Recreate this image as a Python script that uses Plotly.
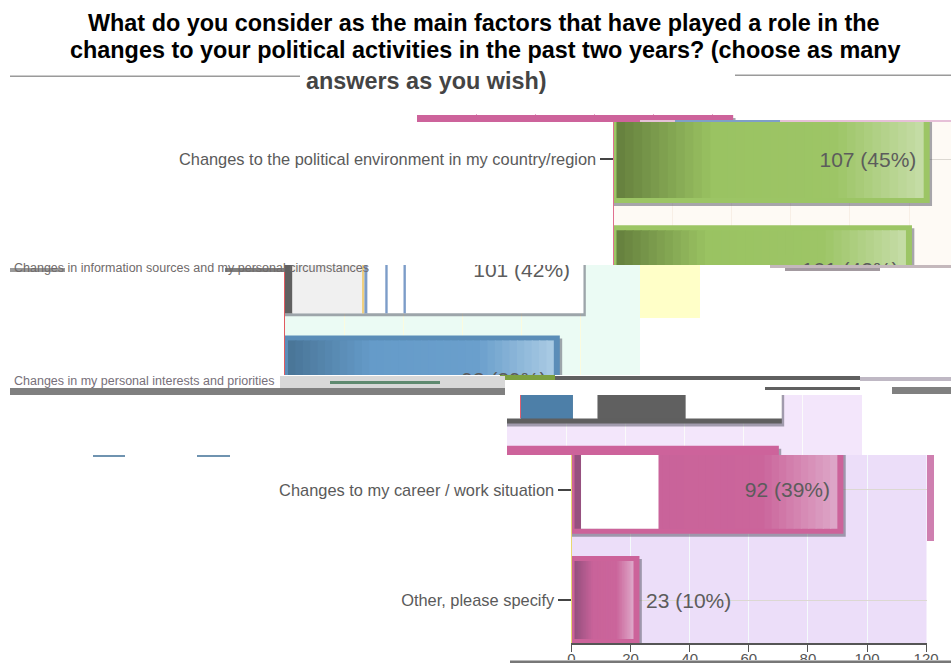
import plotly.graph_objects as go

W, H = 951, 663
CATEGORIES = ["Changes to the political environment in my country/region",
              "Changes in information sources and my personal circumstances",
              "Changes in my personal interests and priorities",
              "Changes to my career / work situation",
              "Other, please specify"]
COUNTS = [107, 101, 93, 92, 23]
PERCENTS = [45, 42, 39, 39, 10]
AXIS_TICKS = [0, 20, 40, 60, 80, 100, 120]
TITLE_LINES = ["What do you consider as the main factors that have played a role in the",
               "changes to your political activities in the past two years? (choose as many"]
TITLE_TAIL = "answers as you wish)"

PXU = 2.955; PLOTW = 355; PITCH = 110.25; C0 = 159; BARW = 0.8
FONT = "Liberation Sans"

def hex2(c):
    return [int(c[i:i + 2], 16) for i in (1, 3, 5)]

def ramp(anchors, n=36):
    out = []
    for k in range(n):
        f = k / n
        for (a, ca), (b, cb) in zip(anchors, anchors[1:]):
            if a <= f <= b:
                t = (f - a) / (b - a)
                rgb = [round(p + (q - p) * t) for p, q in zip(hex2(ca), hex2(cb))]
                out.append((f, "#%02x%02x%02x" % tuple(rgb)))
                break
    return out

GREEN = dict(o="#9cc565", s=ramp([(0, "#67823f"), (.30, "#9ac362"), (.70, "#9dc566"), (1, "#c8deab")]))
BLUE = dict(o="#5b8db8", s=ramp([(0, "#4a7698"), (.30, "#659bc9"), (.70, "#6a9fcc"), (1, "#adcde5")]))
PINK = dict(o="#cc639a", s=ramp([(0, "#96507f"), (.30, "#c9639a"), (.70, "#cb659b"), (1, "#dfabcb")]))
FLATPINK = dict(o="#cd639b", s=[])
GREY2 = dict(o="#ffffff", raw=[(0, .025, "#606060"), (.025, .258, "#f0f0f0"), (.258, .266, "#f0d080"), (.266, .276, "#7c9cc8"),
                               (.336, .344, "#7c9cc8"), (.397, .405, "#7c9cc8")])
BROKEN3 = dict(o="#5f5f5f", raw=[(0, .05, "#ffffff"), (.05, .24, "#4d7fa8"), (.24, .33, "#ffffff"),
                                 (.33, .65, "#606060"), (.65, 1, "#ffffff")])
PINK4 = dict(PINK, patch=(.035, .32))

BANDS = [
    dict(top=114, bot=122, x0=417, bars={0: FLATPINK}, bg=None, ticks=[], grid="#e8a0c8", line=None),
    dict(top=122, bot=265, x0=613.5, bars={0: GREEN, 1: GREEN}, bg="#fefaf5", ticks=[0], grid="#f8efe6", line="#e07090"),
    dict(top=265, bot=375, x0=285, bars={1: GREY2, 2: BLUE}, bg="#ebfbf4", ticks=[], grid="#fbfbe0", line="#e05a60"),
    dict(top=395, bot=455, x0=507, bars={2: BROKEN3, 3: FLATPINK}, bg="#f3e6fb", ticks=[], grid="#fafafa", line=None),
    dict(top=455, bot=643, x0=571.5, bars={3: PINK4, 4: PINK}, bg="#ecdef9", ticks=[3, 4], grid="#f4fbfb", line="#e8d870", axis=True),
]

fig = go.Figure()
layout = {}
shapes = []

def yunit(px):
    return (px - C0) / PITCH

def seg(ax, cat, base, width, color, height=BARW, shift=0.0):
    fig.add_trace(go.Bar(orientation="h", y=[cat], x=[width], base=[base], width=[height], offset=[-height / 2 + shift],
                         marker=dict(color=color, line_width=0), xaxis="x" + ax, yaxis="y" + ax,
                         hoverinfo="skip", showlegend=False))

for n, b in enumerate(BANDS, start=1):
    ax = str(n)
    right = min(b["x0"] + PLOTW, W)
    xname, yname = "xaxis" + ax, "yaxis" + ax
    layout[xname] = dict(domain=[b["x0"] / W, right / W], range=[0, (right - b["x0"]) / PXU], anchor="y" + ax,
                         tickmode="array", tickvals=AXIS_TICKS, showgrid=True, gridcolor=b["grid"], gridwidth=1,
                         zeroline=False, showticklabels=bool(b.get("axis")), showline=bool(b.get("axis")),
                         linecolor="#555555", linewidth=2, ticks="outside" if b.get("axis") else "", ticklen=7,
                         tickcolor="#555555", ticklabelstandoff=-6,
                         tickfont=dict(family=FONT, size=15, color="#555555"), fixedrange=True)
    layout[yname] = dict(domain=[1 - b["bot"] / H, 1 - b["top"] / H], range=[yunit(b["bot"]), yunit(b["top"])], anchor="x" + ax,
                         tickmode="array", tickvals=b["ticks"], ticktext=[CATEGORIES[i] for i in b["ticks"]],
                         showgrid=bool(b["ticks"]), gridcolor="#dcd8d2", zeroline=False, ticks="outside" if b["ticks"] else "",
                         ticklen=13, tickcolor="#444444", tickwidth=2, showline=bool(b["line"]), linecolor=b["line"] or "#fff",
                         tickfont=dict(family=FONT, size=16.4, color="#5a5a5a"), fixedrange=True)
    if b["bg"]:
        shapes.append(dict(type="rect", xref="x" + ax + " domain", yref="y" + ax + " domain", x0=0, x1=1, y0=0, y1=1,
                           fillcolor=b["bg"], line_width=0, layer="below"))
    for cat, style in b["bars"].items():
        v = COUNTS[cat]
        seg(ax, cat, 0, v + 0.8, "rgba(80,80,95,0.5)", shift=3 / PITCH)
        seg(ax, cat, 0, v, style["o"])
        left, rgt = 3 / PXU, 6 / PXU
        inner = v - left - rgt
        h = BARW - 10 / PITCH
        stops = style.get("s", [])
        for k, (f, col) in enumerate(stops):
            f1 = stops[k + 1][0] if k + 1 < len(stops) else 1
            seg(ax, cat, left + inner * f, inner * (f1 - f) + (0.4 if k + 1 < len(stops) else 0), col, height=h)
        if "patch" in style:
            p0, p1 = style["patch"]
            seg(ax, cat, v * p0, v * (p1 - p0), "#ffffff", height=h)
        for f0, f1, col in style.get("raw", []):
            seg(ax, cat, v * f0, v * (f1 - f0), col, height=BARW if style is GREY2 else h)
        label = f"{v} ({PERCENTS[cat]}%)"
        outside = v < 40
        fig.add_trace(go.Bar(orientation="h", y=[cat], x=[v + 1.2 if outside else v - 3.5], width=[BARW], offset=[-BARW / 2],
                             text=[label], textposition="outside" if outside else "inside", insidetextanchor="end",
                             textangle=0, constraintext="none", cliponaxis=True,
                             textfont=dict(family=FONT, size=21, color="#5c5c5c"),
                             marker=dict(color="rgba(0,0,0,0)", line_width=0), xaxis="x" + ax, yaxis="y" + ax,
                             hoverinfo="skip", showlegend=False))

def rect(x0, x1, y0, y1, color, layer="above"):
    shapes.append(dict(type="rect", xref="paper", yref="paper", x0=x0 / W, x1=x1 / W, y0=1 - y0 / H, y1=1 - y1 / H,
                       fillcolor=color, line_width=0, layer=layer))

rect(640, 700, 265, 318, "#ffffc8", "below")
rect(10, 300, 75.5, 77, "#9a9a9a"); rect(735, 951, 74.5, 76, "#9a9a9a")
rect(640, 951, 120, 122, "#e6c0d8")
rect(675, 780, 120, 122, "#7f9fc8")
rect(10, 65, 268, 272, "#9a9a9a"); rect(225, 285, 268, 272, "#808080")
rect(770, 951, 265, 268, "#c4b8bc"); rect(785, 880, 268, 271, "#a39aa0")
rect(500, 555, 375, 380, "#7ca040"); rect(555, 860, 376, 380, "#606060")
rect(10, 505, 388, 395, "#808080"); rect(765, 860, 387, 390, "#606060"); rect(892, 951, 387, 394, "#808080")
rect(860, 951, 377, 381, "#bfb8c4")
rect(280, 505, 376, 388, "#d8d8d8"); rect(330, 440, 381, 384, "#5f8a70")
rect(520, 521, 395, 418, "#e06070")
rect(93, 125, 455, 457, "#6f93b0"); rect(197, 230, 455, 457, "#6f93b0")
rect(927, 934, 455, 541, "#cf7fb0")
rect(0, 951, 660, 663, "#ffffff")
rect(510, 951, 660.5, 663, "#777777")

def text(s, x, y, size, color, anchor="left", bold=False):
    return dict(text=f"<b>{s}</b>" if bold else s, x=x / W, y=1 - y / H, xref="paper", yref="paper", xanchor=anchor,
                yanchor="middle", showarrow=False, font=dict(family=FONT, size=size, color=color))

annotations = [
    text(TITLE_LINES[0], 484, 23, 23.4, "#000000", "center", True),
    text(TITLE_LINES[1], 485, 50, 23.4, "#000000", "center", True),
    text(TITLE_TAIL, 426, 81, 23.4, "#444444", "center", True),
    text(CATEGORIES[1], 12, 268, 12.5, "#6f6a6a"),
    text(CATEGORIES[2], 12, 381, 12.5, "#77707a"),
]

fig.update_layout(width=W, height=H, margin=dict(l=0, r=0, t=0, b=0, autoexpand=False), paper_bgcolor="#ffffff", plot_bgcolor="rgba(0,0,0,0)",
                  barmode="overlay", showlegend=False, shapes=shapes, annotations=annotations, **layout)
fig.write_html("out.html", config={"displayModeBar": False},
               post_script="document.body.style.margin='0';document.documentElement.style.overflow='hidden';document.body.style.overflow='hidden';")
